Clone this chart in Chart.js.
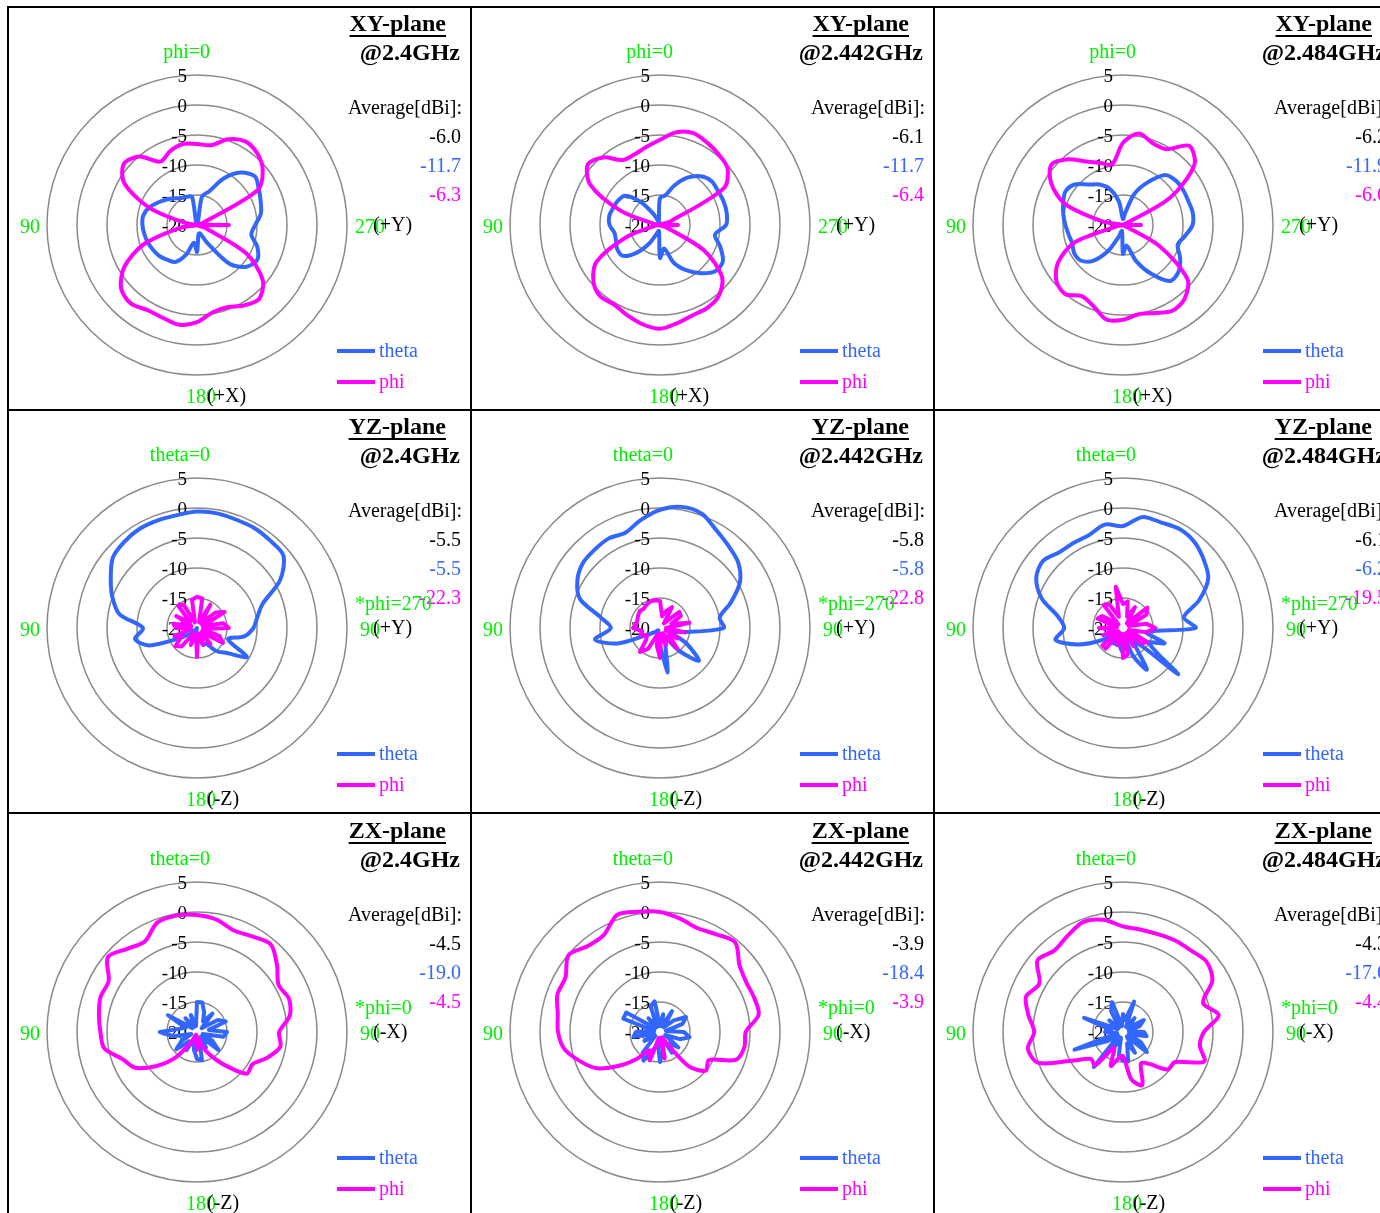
<!DOCTYPE html>
<html>
<head>
<meta charset="utf-8">
<script src="https://cdn.jsdelivr.net/npm/chart.js@4/dist/chart.umd.min.js"></script>
<style>
html, body { margin: 0; padding: 0; background: #fff; width: 1380px; height: 1213px; overflow: hidden; }
#wrap { position: relative; width: 1380px; height: 1213px; overflow: hidden; }
#wrap canvas { position: absolute; }
.vline { position: absolute; top: 6px; width: 2px; height: 1210px; background: #000; }
.hline { position: absolute; left: 7px; width: 1380px; height: 2px; background: #000; }
</style>
</head>
<body>
<div id="wrap"></div>
<script>
// angle in degrees, counted from the top towards the left (as in the reference)
const angles = [0, 10, 20, 30, 40, 50, 60, 70, 80, 90, 100, 110, 120, 130, 140, 150, 160, 170,
    180, 190, 200, 210, 220, 230, 240, 250, 260, 270, 280, 290, 300, 310, 320, 330, 340, 350];

const tickValues = [5, 0, -5, -10, -15, -20];

// XY-plane
const xy24Theta = [-20, -15.2, -15.0, -14.8, -14.2, -13.4, -12.5, -11.5, -10.9, -10.9, -11.1, -11.3, -11.6, -11.9, -12.4, -12.9, -14.8, -17,
    -15.5, -18.5, -18.5, -16.5, -11.5, -9.2, -8.4, -9.3, -10.8, -10.3, -9.2, -8.7, -8.1, -7.4, -8.6, -11, -14, -15.2];
const xy24Phi = [-6.5, -6.3, -6.9, -7.8, -5.1, -4.1, -6.0, -11.5, -18, -20, -17, -10.5, -6.0, -3.5, -2.9, -3.6, -3.5, -3.1,
    -3.8, -5.2, -5.4, -4.5, -3.9, -5.7, -10.5, -18.5, -20, -14.7, -20, -19, -8.3, -5.7, -4.4, -3.9, -4.8, -6.5];

const xy2442Theta = [-15.5, -19, -19.5, -18, -15, -12.4, -11.9, -11.7, -11.4, -11.6, -12.3, -12.2, -11.8, -12.0, -14, -16.5, -18.5, -19,
    -14.5, -16, -13.3, -11.3, -9.5, -8.0, -7.9, -9.3, -10.7, -9.0, -8.7, -8.7, -8.8, -8.7, -9.4, -10.9, -13.0, -15];
const xy2442Phi = [-5.8, -6.8, -7.5, -7.5, -5.3, -4.3, -6.6, -13, -19, -20, -19, -14, -7.8, -5.5, -4.5, -4.7, -4.0, -3.2,
    -2.7, -3.4, -4.0, -4.1, -4.7, -6.5, -11.5, -19, -20, -17, -20, -18, -7.7, -5.3, -4.7, -4.2, -3.7, -4.3];

const xy2484Theta = [-19, -16, -13.6, -12.2, -11.2, -9.5, -8.9, -9.4, -9.9, -10.4, -10.8, -11.0, -10.6, -10.8, -12.2, -15, -18, -19,
    -15.2, -16.5, -13.6, -10.6, -7.8, -7.9, -9.0, -10.3, -9.5, -8.4, -8.2, -8.4, -8.4, -8.5, -9.1, -11.8, -14.5, -18];
const xy2484Phi = [-6.3, -9.7, -9.0, -7.8, -5.7, -4.4, -6.2, -9.7, -16.5, -20, -19, -11.3, -7.5, -5.5, -5.0, -6.3, -5.6, -4.0,
    -4.2, -4.9, -4.4, -3.5, -4.0, -6.0, -13, -20, -20, -17, -20, -20, -11, -4.5, -2.8, -5.4, -5.5, -4.5];

// YZ-plane
const yz24Theta = [-0.6, -0.9, -0.9, -0.9, -1.2, -1.7, -3.4, -5.0, -6.9, -11.0, -9.5, -11.5, -16.5, -18.5, -19.5, -20, -20, -19,
    -17.5, -18, -17, -17, -15, -13.5, -10.4, -14.5, -12, -10.6, -9.8, -8.4, -4, -1.2, -1.0, -0.8, -0.8, -0.6];
const yz24Phi = [-14.8, -15.2, -19, -15.5, -15.1, -18.5, -16, -19, -16, -16.5, -19, -16, -17, -15.3, -16, -19, -17, -19,
    -15.2, -19, -17, -19, -16.5, -19, -15, -16, -19, -14.7, -15.5, -19, -14.7, -16, -19, -15.5, -19, -15];

const yz2442Theta = [-0.3, -1.7, -3.1, -2.8, -3.0, -3.2, -4.1, -5.8, -10, -11.8, -9.0, -12.5, -18, -19, -19.5, -19.5, -19, -18,
    -17, -12.5, -17.5, -18, -15, -11.5, -15, -18, -16, -9.4, -9.9, -7.4, -4.6, -3.0, -2.2, -1.2, 0.3, 0.5];
const yz2442Phi = [-15.5, -15.3, -15.3, -15.5, -15.8, -15.6, -15.8, -16, -16, -15.5, -17, -16.5, -17.5, -17, -14.8, -16, -19, -17,
    -15, -19, -17, -19, -15.5, -18, -16.5, -19, -15.8, -19, -15, -18, -16, -15.8, -19, -16, -17, -18];

const yz2484Theta = [-3.0, -2.5, -3.5, -3.6, -3.5, -2.6, -3.3, -5.6, -9.0, -10.2, -8.6, -12, -16, -19, -18, -17, -19, -17,
    -16, -18, -15, -12, -17, -8, -15, -12.6, -16, -7.9, -9.7, -6.5, -3.6, -2.4, -1.4, -1.0, -1.3, -1.2];
const yz2484Phi = [-16, -13, -18, -15.5, -15, -19, -16, -15.5, -19, -16, -18.5, -16.5, -19, -15.5, -15.5, -19, -17, -19,
    -15, -15.5, -19, -16.5, -19, -16, -15.3, -19, -16, -14.6, -16, -19, -15.5, -14.7, -19, -16, -18, -15.5];

// ZX-plane
const zx24Theta = [-15, -19, -17, -19, -17, -19, -14.4, -18, -17, -13.8, -16, -19, -17, -15.5, -18, -16.5, -19, -17,
    -15.5, -15.2, -19, -17, -19, -15.3, -17, -19, -15.5, -15, -18, -14.9, -16, -19, -16, -18, -16.5, -15];
const zx24Phi = [-0.5, -0.3, -0.6, -2.6, -1.9, -0.6, -3.0, -2.9, -3.4, -3.9, -4.3, -6.8, -8.1, -11.2, -14.5, -18, -19.5, -19,
    -17, -19, -17.5, -15.5, -12.8, -9.2, -9.3, -7.5, -5.9, -6.3, -4.3, -3.7, -4.3, -2.6, -0.9, -1.6, -2.0, -1.0];

const zx2442Theta = [-19, -14.8, -15.5, -19, -17, -19, -13.5, -13.5, -19, -16, -15.5, -19, -17, -19, -15.5, -14.5, -17, -18,
    -15, -17, -19, -16, -17.5, -16, -19, -16.5, -15, -16, -19, -16, -15, -17, -19, -16, -19, -17];
const zx2442Phi = [0.0, 0.35, 0.8, -1.3, -1.3, -0.1, -1.8, -1.8, -2.7, -3.0, -3.8, -5.8, -7.9, -11.3, -14.3, -16.5, -15, -19,
    -19, -15.5, -19, -18, -12.5, -10, -10.6, -6.5, -5.7, -5.7, -3.3, -3.3, -3.4, -2.7, -0.5, -1.2, -1.6, -0.8];

const zx2484Theta = [-17, -19, -14.7, -16, -19, -17, -19, -13.1, -18, -17, -19, -11.4, -17, -19, -12.4, -17, -19, -16,
    -15.2, -15, -18, -16, -19, -14.8, -16.5, -19, -16, -16.5, -19, -17, -16, -19, -17, -19, -14.6, -18];
const zx2484Phi = [-2.4, -1.0, -0.5, -1.5, -2.25, -1.4, -3.9, -2.8, -4.0, -5.2, -3.9, -5.0, -10.5, -13, -12.8, -17, -14, -15.5,
    -16, -12.0, -10.6, -14, -13, -10.3, -10, -5.6, -7.0, -6.5, -3.8, -5.8, -2.8, -1.8, -2.3, -2.45, -2.7, -2.7];

const planes = ["XY-plane", "YZ-plane", "ZX-plane"];
const freqs = ["@2.4GHz", "@2.442GHz", "@2.484GHz"];
const topLabels = ["phi=0", "theta=0", "theta=0"];
const rightNums = ["270", "90", "90"];
const rightAxes = ["(+Y)", "(+Y)", "(-X)"];
const bottomAxes = ["(+X)", "(-Z)", "(-Z)"];
const starNotes = ["", "*phi=270", "*phi=0"];

const avgTotal = [[-6.0, -6.1, -6.2], [-5.5, -5.8, -6.1], [-4.5, -3.9, -4.3]];
const avgTheta = [[-11.7, -11.7, -11.9], [-5.5, -5.8, -6.2], [-19.0, -18.4, -17.6]];
const avgPhi = [[-6.3, -6.4, -6.6], [-22.3, -22.8, -19.5], [-4.5, -3.9, -4.4]];

const thetaSeries = [
    [xy24Theta, xy2442Theta, xy2484Theta],
    [yz24Theta, yz2442Theta, yz2484Theta],
    [zx24Theta, zx2442Theta, zx2484Theta]
];
const phiSeries = [
    [xy24Phi, xy2442Phi, xy2484Phi],
    [yz24Phi, yz2442Phi, yz2484Phi],
    [zx24Phi, zx2442Phi, zx2484Phi]
];

const BLUE = "#3366ff";
const MAGENTA = "#ff00ff";
const GREEN = "#00ee00";
const SERIF = '"Liberation Serif", "Times New Roman", serif';
const DY = 2; // canvas "middle" sits a bit high compared to the reference

// chart.js goes clockwise, the reference goes counter-clockwise
function clockwise(arr) {
    return arr.map((v, k) => arr[(arr.length - k) % arr.length]);
}

const tickPlugin = {
    id: "tickText",
    beforeDatasetsDraw(chart) {
        const ctx = chart.ctx;
        const r = chart.scales.r;
        ctx.save();
        ctx.font = "19px " + SERIF;
        ctx.fillStyle = "#000";
        ctx.textAlign = "right";
        ctx.textBaseline = "middle";
        tickValues.forEach(v => {
            const d = r.getDistanceFromCenterForValue(v);
            ctx.fillText(String(v), r.xCenter - 10, r.yCenter - d + DY);
        });
        ctx.restore();
    }
};

const panelPlugin = {
    id: "panelText",
    afterDraw(chart) {
        const p = chart.options.plugins.panelText;
        const ctx = chart.ctx;
        const r = chart.scales.r;
        const cx = r.xCenter;
        const cy = r.yCenter + DY;
        ctx.save();
        ctx.textBaseline = "middle";

        // title
        ctx.font = "bold 24px " + SERIF;
        ctx.fillStyle = "#000";
        ctx.textAlign = "right";
        ctx.fillText(p.plane, 438, 16 + DY);
        const tw = ctx.measureText(p.plane).width;
        ctx.fillRect(438 - tw, 26 + DY, tw, 2);
        ctx.fillText(p.freq, 452, 45 + DY);

        // averages
        ctx.font = "20px " + SERIF;
        ctx.fillText("Average[dBi]:", 454, 100 + DY);
        ctx.fillText(p.total.toFixed(1), 453, 129 + DY);
        ctx.fillStyle = BLUE;
        ctx.fillText(p.theta.toFixed(1), 453, 158 + DY);
        ctx.fillStyle = MAGENTA;
        ctx.fillText(p.phi.toFixed(1), 453, 187 + DY);

        // angle labels
        ctx.fillStyle = GREEN;
        ctx.textAlign = "right";
        ctx.fillText(p.top, cx + 13, 44 + DY);
        ctx.textAlign = "left";
        ctx.fillText("90", 12, cy + 1);
        ctx.fillText(p.rightNum, p.rightNum.length > 2 ? 347 : 352, cy + 1);
        ctx.fillText("180", 178, 389 + DY);
        if (p.star) ctx.fillText(p.star, 347, 193 + DY);
        ctx.fillStyle = "#000";
        ctx.fillText(p.rightAxis, 365, cy - 1);
        ctx.fillText(p.bottomAxis, 199, 388 + DY);

        // legend
        ctx.lineWidth = 4;
        ctx.strokeStyle = BLUE;
        ctx.beginPath();
        ctx.moveTo(329, 342 + DY);
        ctx.lineTo(367, 342 + DY);
        ctx.stroke();
        ctx.strokeStyle = MAGENTA;
        ctx.beginPath();
        ctx.moveTo(329, 373 + DY);
        ctx.lineTo(367, 373 + DY);
        ctx.stroke();
        ctx.fillStyle = BLUE;
        ctx.fillText("theta", 371, 343 + DY);
        ctx.fillStyle = MAGENTA;
        ctx.fillText("phi", 371, 374 + DY);
        ctx.restore();
    }
};

const wrap = document.getElementById("wrap");
const labels = clockwise(angles).map(String);

for (let row = 0; row < 3; row++) {
    for (let col = 0; col < 3; col++) {
        const canvas = document.createElement("canvas");
        canvas.width = 463;
        canvas.height = 403;
        canvas.style.left = (8 + 463 * col) + "px";
        canvas.style.top = (7 + Math.round(403.3 * row)) + "px";
        wrap.appendChild(canvas);

        const spikyTheta = row === 2;
        const spikyPhi = row === 1;

        new Chart(canvas, {
            type: "radar",
            data: {
                labels: labels,
                datasets: [
                    {
                        label: "phi",
                        data: clockwise(phiSeries[row][col]),
                        borderColor: MAGENTA,
                        backgroundColor: "transparent",
                        borderWidth: 4,
                        fill: false,
                        pointRadius: 0,
                        tension: spikyPhi ? 0 : 0.3
                    },
                    {
                        label: "theta",
                        data: clockwise(thetaSeries[row][col]),
                        borderColor: BLUE,
                        backgroundColor: "transparent",
                        borderWidth: 4,
                        fill: false,
                        pointRadius: 0,
                        tension: spikyTheta ? 0 : 0.3
                    }
                ]
            },
            options: {
                responsive: false,
                animation: false,
                devicePixelRatio: 1,
                layout: {
                    padding: { left: 39, top: 68, right: 124, bottom: 35 }
                },
                elements: {
                    line: { borderJoinStyle: "round", capBezierPoints: false }
                },
                plugins: {
                    legend: { display: false },
                    tooltip: { enabled: false },
                    panelText: {
                        plane: planes[row],
                        freq: freqs[col],
                        total: avgTotal[row][col],
                        theta: avgTheta[row][col],
                        phi: avgPhi[row][col],
                        top: topLabels[row],
                        rightNum: rightNums[row],
                        rightAxis: rightAxes[row],
                        bottomAxis: bottomAxes[row],
                        star: starNotes[row]
                    }
                },
                scales: {
                    r: {
                        min: -20,
                        max: 5,
                        ticks: { display: false, stepSize: 5 },
                        pointLabels: { display: false },
                        angleLines: { display: false },
                        grid: { color: "#8a8a8a", lineWidth: 1.5, circular: true }
                    }
                }
            },
            plugins: [tickPlugin, panelPlugin]
        });
    }
}

[7, 470, 933].forEach(x => {
    const d = document.createElement("div");
    d.className = "vline";
    d.style.left = x + "px";
    wrap.appendChild(d);
});
[6, 409, 812].forEach(y => {
    const d = document.createElement("div");
    d.className = "hline";
    d.style.top = y + "px";
    wrap.appendChild(d);
});
</script>
</body>
</html>
